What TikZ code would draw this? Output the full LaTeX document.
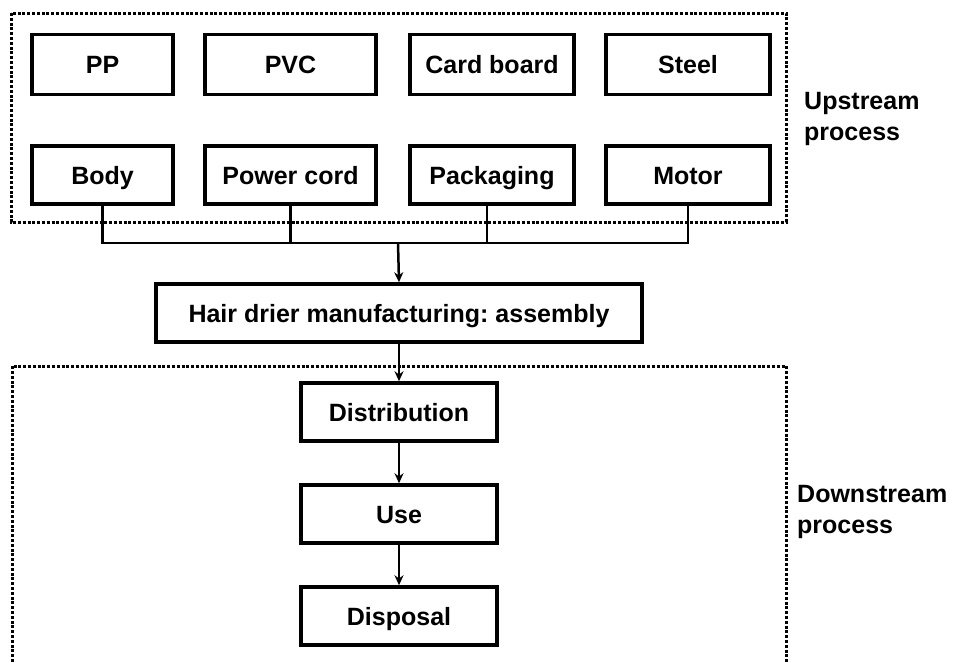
\documentclass[tikz,border=0pt]{standalone}
\usepackage{fontspec}
\setmainfont{Liberation Sans}
\usetikzlibrary{arrows.meta}
\begin{document}
\frenchspacing
\begin{tikzpicture}[x=1pt,y=-1pt,
  box/.style={draw,line width=3.5pt,inner sep=0pt,text height=22pt,text depth=4pt,font=\fontsize{25}{29}\selectfont\bfseries},
  conn/.style={line width=2.5pt},
  arr/.style={line width=2.5pt,-{Stealth[length=10pt,width=9pt]}},
  region/.style={line width=3pt,dash pattern=on 3pt off 1.8pt},
  lbl/.style={align=left,anchor=west,inner sep=0pt,font=\fontsize{25}{31}\selectfont\bfseries}]
\useasboundingbox (0,0) rectangle (958,662);
% regions
\draw[region] (11,13) rectangle (786,222);
\draw[region] (12,662) -- (12,366) -- (786,366) -- (786,662);
% top row
\node[box,minimum width=141pt,minimum height=60pt] (pp) at (102.5,64.5) {PP};
\node[box,minimum width=171pt,minimum height=60pt] (pvc) at (290.5,64.5) {PVC};
\node[box,minimum width=164pt,minimum height=60pt] (card) at (492,64.5) {Card board};
\node[box,minimum width=164pt,minimum height=60pt] (steel) at (688,64.5) {Steel};
% second row
\node[box,minimum width=141pt,minimum height=58pt] (body) at (102.5,175) {Body};
\node[box,minimum width=171pt,minimum height=58pt] (cord) at (290.5,175) {Power cord};
\node[box,minimum width=164pt,minimum height=58pt] (pack) at (492,175) {Packaging};
\node[box,minimum width=164pt,minimum height=58pt] (motor) at (688,175) {Motor};
% assembly and downstream
\node[box,minimum width=486pt,minimum height=58pt] (asm) at (399,313) {Hair drier manufacturing: assembly};
\node[box,minimum width=196pt,minimum height=58pt] (dist) at (399,412) {Distribution};
\node[box,minimum width=196pt,minimum height=58pt] (use) at (399,514) {Use};
\node[box,minimum width=196pt,minimum height=58pt] (disp) at (399,616) {Disposal};
% labels
\node[lbl] (up) at (804,119) {Upstream\\process};
\node[lbl] (down) at (797,512) {Downstream\\process};
% connectors
\coordinate (bus) at (398,243);
\draw[conn] (body.south) |- (motor.south |- bus) -- (motor.south);
\draw[conn] (cord.south) -- (cord.south |- bus);
\draw[conn] ([xshift=-5pt]pack.south) -- ([xshift=-5pt]pack.south |- bus);
\draw[arr] (bus) -- (asm.north);
\draw[arr] (asm.south) -- (dist.north);
\draw[arr] (dist.south) -- (use.north);
\draw[arr] (use.south) -- (disp.north);
\end{tikzpicture}
\end{document}
